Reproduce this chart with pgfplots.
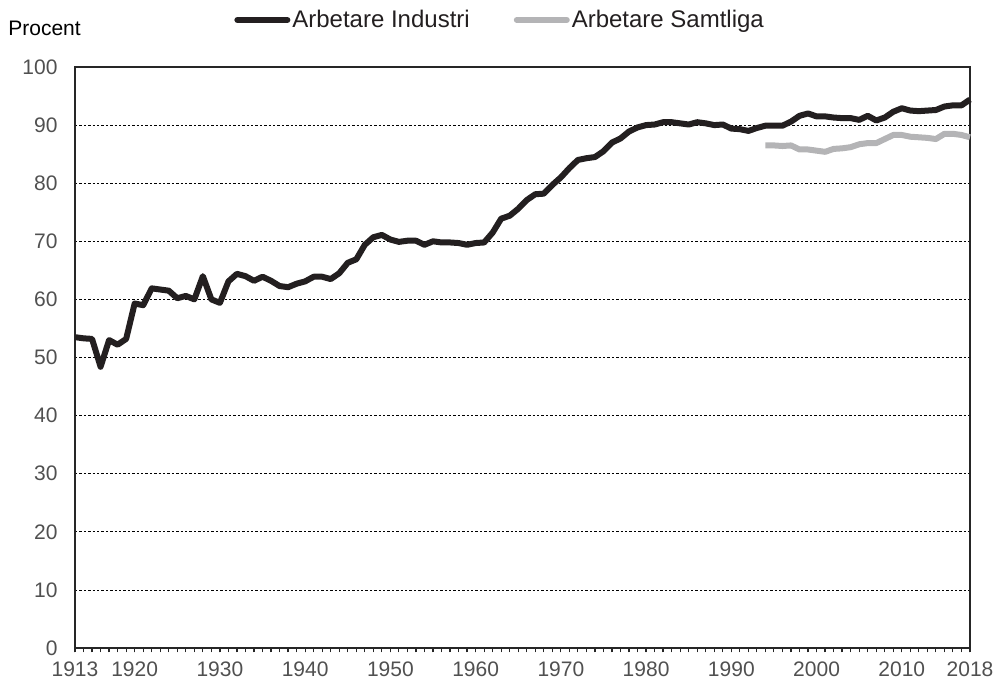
\documentclass[border=0pt]{standalone}
\usepackage{fontspec}
\setmainfont{Liberation Sans}
\usepackage{pgfplots}
\pgfplotsset{compat=1.18}
\definecolor{indblack}{HTML}{231F20}
\definecolor{samgray}{HTML}{B4B4B6}
\definecolor{ticktext}{HTML}{505050}

\begin{document}
\begin{tikzpicture}
\useasboundingbox (-37.5pt,-16.5pt) rectangle (460pt,324pt);
\begin{axis}[
  scale only axis,
  width=447.5pt,
  height=290.5pt,
  xmin=1913, xmax=2018,
  ymin=0, ymax=100,
  clip=false,
  xtick={1913,1920,1930,1940,1950,1960,1970,1980,1990,2000,2010,2018},
  minor xtick={1913,1914,...,2018},
  ytick={0,10,...,100},
  xtick pos=bottom,
  tick align=outside,
  major tick length=2.2pt,
  minor tick length=2.2pt,
  tick style={draw=black!85, line width=0.6pt},
  ytick style={draw=none},
  xticklabel style={/pgf/number format/1000 sep={}},
  ticklabel style={font=\fontsize{10.5}{12}\selectfont, text=ticktext},
  /pgf/number format/assume math mode=true,
  yticklabel shift=3pt,
  xticklabel shift=1.2pt,
  axis line style={draw=black!85, line width=0.8pt},
  ymajorgrids=true,
  grid style={draw=black, line width=0.4pt, dash pattern=on 1.2pt off 1pt},
  legend columns=2,
  legend style={draw=none, fill=none, at={(rel axis cs:0.475,1.081)}, anchor=center,
    font=\fontsize{12}{14}\selectfont, text=indblack,
    /tikz/every even column/.append style={column sep=21pt},
    nodes={inner sep=1pt}},
  legend image code/.code={\draw[#1, line cap=round] (0pt,0pt) -- (25pt,0pt);},
  every axis plot/.append style={line join=round},
]
\addplot[indblack, line width=3pt] coordinates {
(1913,53.5) (1914,53.3) (1915,53.2) (1916,48.4) (1917,53.0) (1918,52.2)
(1919,53.2) (1920,59.3) (1921,59.0) (1922,61.9) (1923,61.7) (1924,61.5)
(1925,60.2) (1926,60.6) (1927,60.0) (1928,64.0) (1929,60.0) (1930,59.4)
(1931,63.1) (1932,64.4) (1933,64.0) (1934,63.2) (1935,63.9) (1936,63.2)
(1937,62.3) (1938,62.1) (1939,62.7) (1940,63.1) (1941,63.9) (1942,63.9)
(1943,63.5) (1944,64.5) (1945,66.3) (1946,66.9) (1947,69.4) (1948,70.7)
(1949,71.1) (1950,70.3) (1951,69.9) (1952,70.1) (1953,70.1) (1954,69.4)
(1955,70.0) (1956,69.8) (1957,69.8) (1958,69.7) (1959,69.4) (1960,69.7)
(1961,69.8) (1962,71.5) (1963,73.9) (1964,74.4) (1965,75.6) (1966,77.1)
(1967,78.1) (1968,78.2) (1969,79.7) (1970,81.0) (1971,82.6) (1972,84.0)
(1973,84.3) (1974,84.5) (1975,85.5) (1976,87.0) (1977,87.7) (1978,88.9)
(1979,89.6) (1980,90.0) (1981,90.1) (1982,90.5) (1983,90.5) (1984,90.3)
(1985,90.1) (1986,90.5) (1987,90.3) (1988,90.0) (1989,90.1) (1990,89.4)
(1991,89.3) (1992,89.0) (1993,89.5) (1994,89.9) (1995,89.9) (1996,89.9)
(1997,90.6) (1998,91.6) (1999,92.0) (2000,91.5) (2001,91.5) (2002,91.3)
(2003,91.2) (2004,91.2) (2005,90.9) (2006,91.6) (2007,90.8) (2008,91.3)
(2009,92.3) (2010,92.9) (2011,92.5) (2012,92.4) (2013,92.5) (2014,92.6)
(2015,93.2) (2016,93.4) (2017,93.4) (2018,94.4)
};
\addlegendentry{Arbetare Industri}
\addplot[samgray, line width=3pt] coordinates {
(1994,86.5) (1995,86.5) (1996,86.4) (1997,86.5) (1998,85.8) (1999,85.8)
(2000,85.6) (2001,85.4) (2002,85.9) (2003,86.0) (2004,86.2) (2005,86.7)
(2006,86.9) (2007,86.9) (2008,87.6) (2009,88.3) (2010,88.3) (2011,88.0)
(2012,87.9) (2013,87.8) (2014,87.6) (2015,88.5) (2016,88.5) (2017,88.3)
(2018,87.9)
};
\addlegendentry{Arbetare Samtliga}
\node[anchor=west, inner sep=0pt, font=\fontsize{10.5}{12}\selectfont, text=black]
  at (rel axis cs:-0.0749,1.067) {Procent};
\end{axis}
\end{tikzpicture}
\end{document}
